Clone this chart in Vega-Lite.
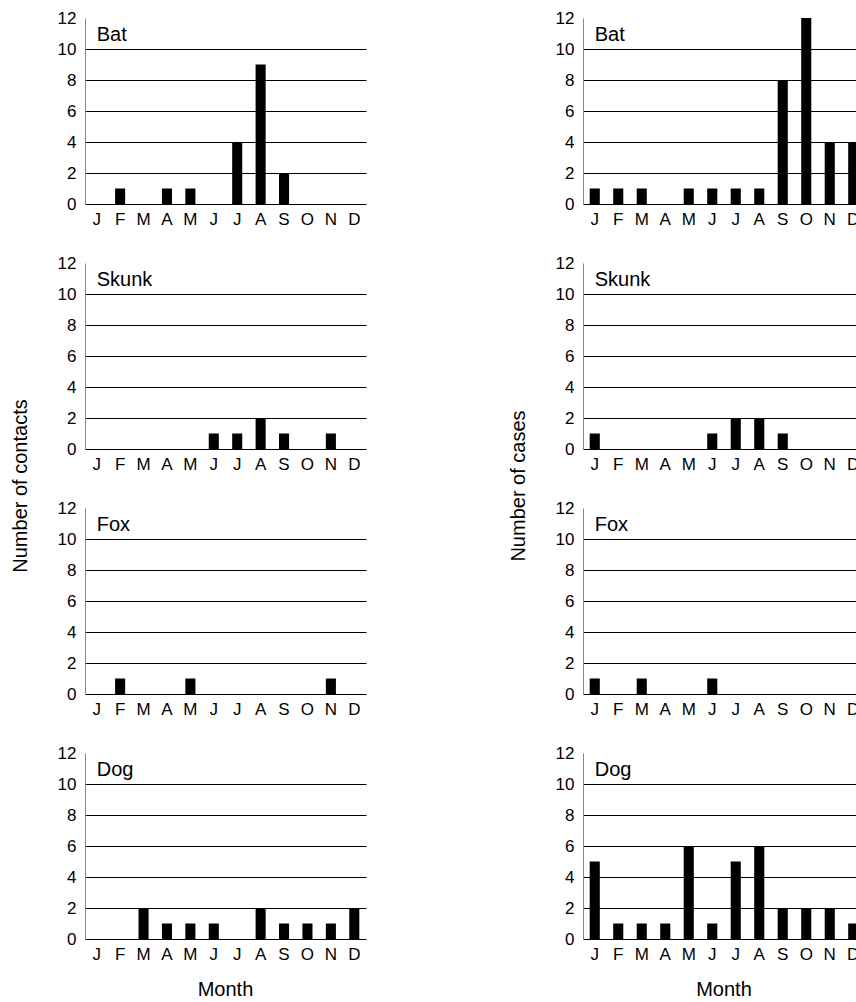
{
  "$schema": "https://vega.github.io/schema/vega-lite/v6.json",
  "background": "white",
  "padding": {"left": 10, "top": 9, "right": 0, "bottom": 0},
  "config": {
    "font": "Liberation Sans",
    "view": {"stroke": null},
    "axis": {"labelFont": "Liberation Sans", "labelFontSize": 17, "labelColor": "#000", "ticks": false, "domainColor": "#000"},
    "header": {"labelFont": "Liberation Sans", "titleFont": "Liberation Sans", "labelColor": "#000", "titleColor": "#000", "labelFontSize": 20, "titleFontSize": 20, "titleFontWeight": "normal"},
    "text": {"font": "Liberation Sans"}
  },
  "spacing": 142,
  "hconcat": [
    {
      "data": {"values": [
        {"set": "contacts", "animal": "Bat", "month": "Feb", "n": 1},
        {"set": "contacts", "animal": "Bat", "month": "Apr", "n": 1},
        {"set": "contacts", "animal": "Bat", "month": "May", "n": 1},
        {"set": "contacts", "animal": "Bat", "month": "Jul", "n": 4},
        {"set": "contacts", "animal": "Bat", "month": "Aug", "n": 9},
        {"set": "contacts", "animal": "Bat", "month": "Sep", "n": 2},
        {"set": "contacts", "animal": "Skunk", "month": "Jun", "n": 1},
        {"set": "contacts", "animal": "Skunk", "month": "Jul", "n": 1},
        {"set": "contacts", "animal": "Skunk", "month": "Aug", "n": 2},
        {"set": "contacts", "animal": "Skunk", "month": "Sep", "n": 1},
        {"set": "contacts", "animal": "Skunk", "month": "Nov", "n": 1},
        {"set": "contacts", "animal": "Fox", "month": "Feb", "n": 1},
        {"set": "contacts", "animal": "Fox", "month": "May", "n": 1},
        {"set": "contacts", "animal": "Fox", "month": "Nov", "n": 1},
        {"set": "contacts", "animal": "Dog", "month": "Mar", "n": 2},
        {"set": "contacts", "animal": "Dog", "month": "Apr", "n": 1},
        {"set": "contacts", "animal": "Dog", "month": "May", "n": 1},
        {"set": "contacts", "animal": "Dog", "month": "Jun", "n": 1},
        {"set": "contacts", "animal": "Dog", "month": "Aug", "n": 2},
        {"set": "contacts", "animal": "Dog", "month": "Sep", "n": 1},
        {"set": "contacts", "animal": "Dog", "month": "Oct", "n": 1},
        {"set": "contacts", "animal": "Dog", "month": "Nov", "n": 1},
        {"set": "contacts", "animal": "Dog", "month": "Dec", "n": 2}
      ]},
      "facet": {
        "row": {"field": "animal", "type": "nominal", "sort": ["Bat", "Skunk", "Fox", "Dog"], "header": {"labels": false, "title": "Number of contacts", "titlePadding": 16}},
        "column": {"field": "set", "type": "nominal", "header": {"labelExpr": "'Month'", "labelOrient": "bottom", "labelPadding": 18, "title": null}}
      },
      "spacing": {"row": 27},
      "resolve": {"axis": {"x": "independent", "y": "independent"}},
      "spec": {
        "width": 281,
        "height": 186,
        "layer": [
          {
            "mark": {"type": "bar", "color": "#000", "width": {"band": 0.43}},
            "encoding": {
              "x": {"field": "month", "type": "ordinal", "scale": {"domain": ["Jan","Feb","Mar","Apr","May","Jun","Jul","Aug","Sep","Oct","Nov","Dec"], "paddingInner": 0, "paddingOuter": 0}, "axis": {"title": null, "labelExpr": "substring(datum.label, 0, 1)", "labelAngle": 0, "labelPadding": 7, "grid": false}},
              "y": {"field": "n", "type": "quantitative", "scale": {"domain": [0, 12], "nice": false}, "axis": {"title": null, "values": [0, 2, 4, 6, 8, 10, 12], "tickCount": 12, "labelOverlap": false, "grid": true, "gridColor": "#000", "gridOpacity": {"condition": {"test": "datum.value === 12 || datum.value === 0", "value": 0}, "value": 1}, "domainColor": "#888", "labelPadding": 9}}
            }
          },
          {
            "transform": [{"aggregate": [{"op": "count", "as": "c"}], "groupby": ["set", "animal"]}],
            "mark": {"type": "text", "align": "left", "baseline": "middle", "fontSize": 20, "color": "#000"},
            "encoding": {
              "x": {"datum": "Jan", "type": "ordinal"},
              "y": {"datum": 10.9, "type": "quantitative"},
              "text": {"field": "animal"}
            }
          }
        ]
      }
    },
    {
      "data": {"values": [
        {"set": "cases", "animal": "Bat", "month": "Jan", "n": 1},
        {"set": "cases", "animal": "Bat", "month": "Feb", "n": 1},
        {"set": "cases", "animal": "Bat", "month": "Mar", "n": 1},
        {"set": "cases", "animal": "Bat", "month": "May", "n": 1},
        {"set": "cases", "animal": "Bat", "month": "Jun", "n": 1},
        {"set": "cases", "animal": "Bat", "month": "Jul", "n": 1},
        {"set": "cases", "animal": "Bat", "month": "Aug", "n": 1},
        {"set": "cases", "animal": "Bat", "month": "Sep", "n": 8},
        {"set": "cases", "animal": "Bat", "month": "Oct", "n": 12},
        {"set": "cases", "animal": "Bat", "month": "Nov", "n": 4},
        {"set": "cases", "animal": "Bat", "month": "Dec", "n": 4},
        {"set": "cases", "animal": "Skunk", "month": "Jan", "n": 1},
        {"set": "cases", "animal": "Skunk", "month": "Jun", "n": 1},
        {"set": "cases", "animal": "Skunk", "month": "Jul", "n": 2},
        {"set": "cases", "animal": "Skunk", "month": "Aug", "n": 2},
        {"set": "cases", "animal": "Skunk", "month": "Sep", "n": 1},
        {"set": "cases", "animal": "Fox", "month": "Jan", "n": 1},
        {"set": "cases", "animal": "Fox", "month": "Mar", "n": 1},
        {"set": "cases", "animal": "Fox", "month": "Jun", "n": 1},
        {"set": "cases", "animal": "Dog", "month": "Jan", "n": 5},
        {"set": "cases", "animal": "Dog", "month": "Feb", "n": 1},
        {"set": "cases", "animal": "Dog", "month": "Mar", "n": 1},
        {"set": "cases", "animal": "Dog", "month": "Apr", "n": 1},
        {"set": "cases", "animal": "Dog", "month": "May", "n": 6},
        {"set": "cases", "animal": "Dog", "month": "Jun", "n": 1},
        {"set": "cases", "animal": "Dog", "month": "Jul", "n": 5},
        {"set": "cases", "animal": "Dog", "month": "Aug", "n": 6},
        {"set": "cases", "animal": "Dog", "month": "Sep", "n": 2},
        {"set": "cases", "animal": "Dog", "month": "Oct", "n": 2},
        {"set": "cases", "animal": "Dog", "month": "Nov", "n": 2},
        {"set": "cases", "animal": "Dog", "month": "Dec", "n": 1}
      ]},
      "facet": {
        "row": {"field": "animal", "type": "nominal", "sort": ["Bat", "Skunk", "Fox", "Dog"], "header": {"labels": false, "title": "Number of cases", "titlePadding": 16}},
        "column": {"field": "set", "type": "nominal", "header": {"labelExpr": "'Month'", "labelOrient": "bottom", "labelPadding": 18, "title": null}}
      },
      "spacing": {"row": 27},
      "resolve": {"axis": {"x": "independent", "y": "independent"}},
      "spec": {
        "width": 282,
        "height": 186,
        "layer": [
          {
            "mark": {"type": "bar", "color": "#000", "width": {"band": 0.43}},
            "encoding": {
              "x": {"field": "month", "type": "ordinal", "scale": {"domain": ["Jan","Feb","Mar","Apr","May","Jun","Jul","Aug","Sep","Oct","Nov","Dec"], "paddingInner": 0, "paddingOuter": 0}, "axis": {"title": null, "labelExpr": "substring(datum.label, 0, 1)", "labelAngle": 0, "labelPadding": 7, "grid": false}},
              "y": {"field": "n", "type": "quantitative", "scale": {"domain": [0, 12], "nice": false}, "axis": {"title": null, "values": [0, 2, 4, 6, 8, 10, 12], "tickCount": 12, "labelOverlap": false, "grid": true, "gridColor": "#000", "gridOpacity": {"condition": {"test": "datum.value === 12 || datum.value === 0", "value": 0}, "value": 1}, "domainColor": "#888", "labelPadding": 9}}
            }
          },
          {
            "transform": [{"aggregate": [{"op": "count", "as": "c"}], "groupby": ["set", "animal"]}],
            "mark": {"type": "text", "align": "left", "baseline": "middle", "fontSize": 20, "color": "#000"},
            "encoding": {
              "x": {"datum": "Jan", "type": "ordinal"},
              "y": {"datum": 10.9, "type": "quantitative"},
              "text": {"field": "animal"}
            }
          }
        ]
      }
    }
  ]
}
